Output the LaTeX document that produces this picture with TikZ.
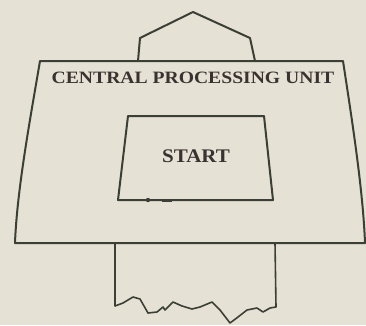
\documentclass[tikz,border=0pt]{standalone}
\usepackage{fontspec}
\setmainfont{Liberation Serif}
\definecolor{bg}{HTML}{E6E1D5}
\definecolor{ink}{HTML}{3C3F35}
\definecolor{txt}{HTML}{3A3230}
\tikzset{outline/.style={draw=ink, line width=2pt, line join=round, line cap=round},
  label/.style={text=txt, font=\bfseries, inner sep=0pt}}
\begin{document}
\begin{tikzpicture}[x=1pt,y=-1pt]
\fill[bg] (0,0) rectangle (366,325);
\useasboundingbox (0,0) rectangle (366,325);
% top roof
\draw[outline] (138,61) -- (140,38) -- (193,12) -- (250,38) -- (255,61);
% main box
\draw[outline] (40,61) -- (343,61) .. controls (352,120) and (363,190) .. (365,243)
  -- (15,243) .. controls (17,190) and (30,120) .. (40,61) -- cycle;
% bottom torn tab
\draw[outline, line width=1.6pt] (115,243) -- (115,306) -- (123,303) -- (133,297) -- (140,299) -- (148,313) -- (157,312)
  -- (163,307) -- (165,310) -- (173,302) -- (182,306) -- (192,309) -- (200,307)
  -- (212,302) -- (220,310) -- (230,323) -- (238,317) -- (247,310) -- (257,308)
  -- (263,312) -- (270,308) -- (276,307) -- (275,243);
% inner START box
\draw[outline] (128,116) -- (264,116) -- (273,200) -- (118,200) -- cycle;
\fill[ink] (148,200) circle (2.2);
\fill[ink] (162,198.5) rectangle (172,201.5);
\node[label] (cpu) at (193,78) {\scalebox{1.19}[1.05]{\fontsize{16.5}{18}\selectfont\bfseries CENTRAL PROCESSING UNIT}};
\node[label] (start) at (196,156) {\scalebox{1.2}[1.1]{\fontsize{17.5}{19}\selectfont\bfseries START}};
\end{tikzpicture}
\end{document}
